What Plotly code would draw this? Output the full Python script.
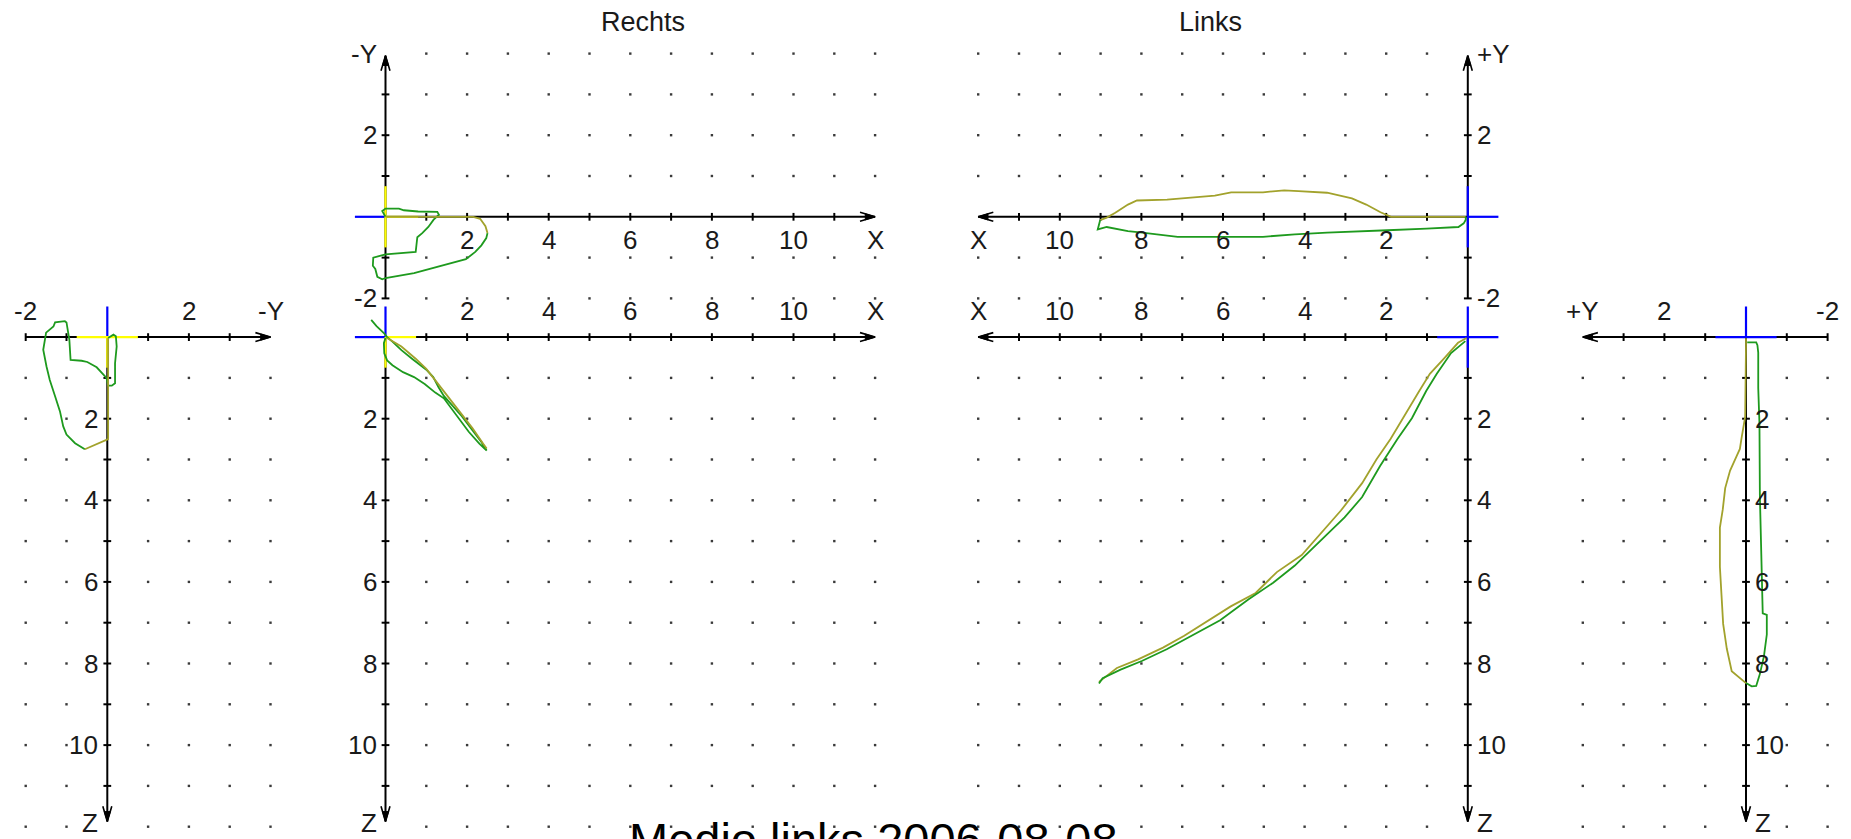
import plotly.graph_objects as go

W, H = 1851, 839
UNIT_PX = 40.8

# ---------------- values ----------------
# Left side view (Rechts): horizontal = -Y (right positive), vertical = Z (down)
SIDE_R_GREEN_H = [0.02, 0.15, 0.21, 0.23, 0.19, 0.19, 0.11, 0.02, -0.02, -0.10, -0.26, -0.49, -0.63, -0.90,
                  -0.93, -1.00, -1.04, -1.28, -1.32, -1.50, -1.57, -1.49, -1.41, -1.28, -1.16, -1.08, -1.00,
                  -0.79, -0.55]
SIDE_R_GREEN_Z = [0.02, -0.06, -0.02, 0.23, 0.64, 1.13, 1.19, 1.19, 1.00, 0.91, 0.74, 0.61, 0.58, 0.56,
                  0.07, -0.36, -0.39, -0.36, -0.26, -0.11, 0.31, 0.72, 1.05, 1.45, 1.82, 2.19, 2.39,
                  2.60, 2.75]
SIDE_R_OLIVE_H = [-0.55, -0.22, 0.02, 0.02, 0.02, 0.01, 0.02]
SIDE_R_OLIVE_Z = [2.75, 2.60, 2.50, 2.19, 1.05, 0.23, 0.02]

# Rechts, top view: X (right), -Y (up)
RECHTS_TOP_GREEN_X = [0.0, -0.08, 0.0, 0.33, 0.45, 0.80, 1.27, 1.31, 1.18, 1.05, 0.90, 0.78, 0.74, 0.0,
                      -0.30, -0.31, -0.25, -0.20, -0.08, 0.0, 0.70, 1.10, 1.55, 1.97, 2.20, 2.35, 2.47, 2.50]
RECHTS_TOP_GREEN_Y = [0.0, 0.14, 0.20, 0.20, 0.16, 0.13, 0.12, 0.05, -0.07, -0.25, -0.40, -0.50, -0.86, -0.92,
                      -1.00, -1.20, -1.28, -1.47, -1.53, -1.50, -1.38, -1.27, -1.15, -1.04, -0.86, -0.70,
                      -0.52, -0.40]
RECHTS_TOP_OLIVE_X = [2.50, 2.45, 2.32, 2.15, 1.27, 0.0]
RECHTS_TOP_OLIVE_Y = [-0.40, -0.23, -0.05, 0.0, 0.0, 0.0]

# Rechts, front view: X (right), Z (down)
RECHTS_BOT_GREEN_X = [-0.35, -0.22, -0.04, 0.04, 0.17, 0.39, 0.65, 0.87, 1.00, 1.17, 1.30, 1.43, 1.65, 1.87,
                      2.13, 2.35, 2.48, 2.30, 2.04, 1.78, 1.57, 1.43, 1.22, 0.96, 0.70, 0.43, 0.17, 0.04,
                      -0.03, -0.04, 0.0]
RECHTS_BOT_GREEN_Z = [-0.42, -0.27, -0.10, 0.0, 0.11, 0.32, 0.53, 0.69, 0.80, 0.98, 1.23, 1.44, 1.69, 1.94,
                      2.28, 2.57, 2.78, 2.61, 2.32, 1.98, 1.69, 1.50, 1.36, 1.15, 0.98, 0.86, 0.69, 0.57,
                      0.40, 0.15, 0.02]
RECHTS_BOT_OLIVE_X = [0.04, 0.39, 0.74, 1.00, 1.26, 1.52, 1.78, 2.13, 2.39, 2.48]
RECHTS_BOT_OLIVE_Z = [0.02, 0.23, 0.53, 0.78, 1.11, 1.44, 1.78, 2.23, 2.61, 2.73]

# Links, top view: X (left), +Y (up)
LINKS_TOP_OLIVE_X = [0.05, 1.88, 2.14, 2.49, 2.84, 3.45, 4.15, 4.50, 5.02, 5.80, 6.20, 6.85, 7.37, 8.11,
                     8.33, 8.64, 8.85, 9.01]
LINKS_TOP_OLIVE_Y = [0.0, 0.0, 0.11, 0.30, 0.45, 0.59, 0.63, 0.65, 0.60, 0.60, 0.52, 0.47, 0.42, 0.40,
                     0.30, 0.10, -0.02, -0.08]
LINKS_TOP_GREEN_X = [9.01, 9.07, 8.85, 8.33, 7.98, 7.63, 7.11, 5.02, 4.24, 3.45, 2.84, 1.97, 1.01, 0.23,
                     0.10, 0.05, 0.05]
LINKS_TOP_GREEN_Y = [-0.08, -0.31, -0.25, -0.35, -0.39, -0.43, -0.49, -0.49, -0.43, -0.39, -0.37, -0.33,
                     -0.29, -0.25, -0.16, -0.07, 0.0]

# Links, front view: X (left), Z (down)
LINKS_BOT_OLIVE_X = [0.03, 0.24, 0.58, 0.93, 1.19, 1.54, 1.89, 2.24, 2.59, 3.11, 3.55, 4.07, 4.68, 5.20,
                     5.81, 6.34, 6.95, 7.47, 8.08, 8.60, 9.04]
LINKS_BOT_OLIVE_Z = [0.02, 0.14, 0.52, 0.90, 1.32, 1.90, 2.49, 3.00, 3.58, 4.25, 4.76, 5.34, 5.76, 6.27,
                     6.60, 6.94, 7.32, 7.61, 7.90, 8.11, 8.45]
LINKS_BOT_GREEN_X = [9.04, 8.95, 8.51, 7.99, 7.38, 6.86, 6.07, 5.38, 4.77, 4.24, 3.55, 3.02, 2.59, 2.15,
                     1.72, 1.37, 1.02, 0.76, 0.41, 0.15, 0.06]
LINKS_BOT_GREEN_Z = [8.49, 8.36, 8.15, 7.94, 7.65, 7.36, 6.94, 6.43, 6.02, 5.60, 4.92, 4.42, 3.92, 3.16,
                     2.49, 1.99, 1.32, 0.90, 0.39, 0.18, 0.10]

# Right side view (Links): horizontal = +Y (left positive), vertical = Z (down)
SIDE_L_GREEN_H = [-0.03, -0.25, -0.28, -0.30, -0.30, -0.33, -0.34, -0.36, -0.38, -0.41, -0.51, -0.51,
                  -0.44, -0.34, -0.25, -0.14, 0.0]
SIDE_L_GREEN_Z = [0.13, 0.13, 0.20, 0.38, 1.25, 2.13, 3.88, 4.75, 6.07, 6.77, 6.81, 7.29, 7.82, 8.26,
                  8.55, 8.56, 8.48]
SIDE_L_OLIVE_H = [0.0, 0.15, 0.35, 0.47, 0.56, 0.60, 0.64, 0.64, 0.57, 0.51, 0.39, 0.23, 0.15, 0.11,
                  0.05, 0.02, 0.0, 0.0]
SIDE_L_OLIVE_Z = [8.48, 8.35, 8.19, 7.64, 7.03, 6.33, 5.63, 4.67, 4.23, 3.70, 3.27, 2.92, 2.74, 2.48,
                  2.13, 1.95, 0.20, 0.03]

# origin marker crosses: (color key, x0, y0, x1, y1) in each view's units
CROSS_SIDE_R = [("blue", 0, 0, 0, -0.75), ("yellow", -0.75, 0, 0.75, 0), ("yellow", 0, 0, 0, 0.75)]
CROSS_RECHTS_TOP = [("blue", -0.75, 0, 0, 0), ("yellow", 0, 0, 0.8, 0), ("yellow", 0, 0.75, 0, -0.75)]
CROSS_RECHTS_BOT = [("blue", -0.75, 0, 0, 0), ("blue", 0, 0, 0, -0.75),
                    ("yellow", 0, 0, 0.75, 0), ("yellow", 0, 0, 0, 0.75)]
CROSS_LINKS_TOP = [("blue", 0, 0.75, 0, -0.75), ("blue", 0, 0, -0.75, 0)]
CROSS_LINKS_BOT = [("blue", 0.75, 0, -0.75, 0), ("blue", 0, -0.75, 0, 0.75)]
CROSS_SIDE_L = [("blue", 0.75, 0, -0.75, 0), ("blue", 0, 0, 0, -0.75)]

# axis tick labels
X_LABEL_POS = [2, 4, 6, 8, 10, 12]
X_LABEL_TEXT = ["2", "4", "6", "8", "10", "X"]
Z_LABEL_POS = [2, 4, 6, 8, 10, 11.92]
Z_LABEL_TEXT = ["2", "4", "6", "8", "10", "Z"]
SIDE_R_H_LABEL_POS = [-2, 2, 4]
SIDE_R_H_LABEL_TEXT = ["-2", "2", "-Y"]
SIDE_L_H_LABEL_POS = [-2, 2, 4]
SIDE_L_H_LABEL_TEXT = ["-2", "2", "+Y"]
RECHTS_Y_LABEL_POS = [2, -2, 4.0]
RECHTS_Y_LABEL_TEXT = ["2", "-2", "-Y"]
LINKS_Y_LABEL_POS = [2, -2, 4.0]
LINKS_Y_LABEL_TEXT = ["2", "-2", "+Y"]

PANEL_TITLES = ["Rechts", "Links"]
MAIN_TITLE = "Medio links 2006-08-08"

# ---------------- layout / style ----------------
COL = {"green": "#1e9a1e", "olive": "#a2a22c", "blue": "#0000ff", "yellow": "#ffff00"}
AXIS_COLOR = "#000000"
DOT_COLOR = "#3a3a3a"
FONT = "Liberation Sans, Arial, sans-serif"
LABEL_SIZE = 26
TITLE_SIZE = 27
LABEL_COLOR = "#1a1a1a"

# panel geometry in pixels: origin (ox, oy), direction of positive values, clip box
PANELS = {
    "SR": dict(n=1, ox=107.3, oy=337.1, xdir=1, ydir=-1, box=(0, 290, 330, 839)),
    "RT": dict(n=2, ox=385.5, oy=216.8, xdir=1, ydir=1, box=(330, 0, 915, 322)),
    "RB": dict(n=3, ox=385.5, oy=337.1, xdir=1, ydir=-1, box=(330, 290, 915, 839)),
    "LT": dict(n=4, ox=1467.8, oy=216.8, xdir=-1, ydir=1, box=(935, 0, 1525, 322)),
    "LB": dict(n=5, ox=1467.8, oy=337.1, xdir=-1, ydir=-1, box=(935, 290, 1525, 839)),
    "SL": dict(n=6, ox=1746.0, oy=337.1, xdir=-1, ydir=-1, box=(1525, 290, 1851, 839)),
}

fig = go.Figure()
layout_axes = {}
for key, p in PANELS.items():
    n = p["n"]
    x0, y0, x1, y1 = p["box"]
    xr = [p["xdir"] * (x0 - p["ox"]) / UNIT_PX, p["xdir"] * (x1 - p["ox"]) / UNIT_PX]
    yr = [p["ydir"] * (p["oy"] - y1) / UNIT_PX, p["ydir"] * (p["oy"] - y0) / UNIT_PX]
    sx = "" if n == 1 else str(n)
    layout_axes["xaxis" + sx] = dict(domain=[x0 / W, x1 / W], range=xr, visible=False,
                                     fixedrange=True, anchor="y" + sx)
    layout_axes["yaxis" + sx] = dict(domain=[1 - y1 / H, 1 - y0 / H], range=yr, visible=False,
                                     fixedrange=True, anchor="x" + sx)
    p["xref"] = "x" + sx
    p["yref"] = "y" + sx


def add(key, **kw):
    p = PANELS[key]
    kw.setdefault("hoverinfo", "skip")
    kw.setdefault("showlegend", False)
    fig.add_trace(go.Scatter(xaxis=p["xref"], yaxis=p["yref"], **kw))


def dots(key, cols, rows):
    xs, ys = [], []
    for r in rows:
        for c in cols:
            xs.append(c)
            ys.append(r)
    add(key, x=xs, y=ys, mode="markers",
        marker=dict(symbol="square", size=2.4, color=DOT_COLOR, line=dict(width=0)))


TICK_HALF = 0.095
ARROW_LEN, ARROW_HW = 0.37, 0.11
HEAD_LEN, HEAD_HW = 0.24, 0.075


def axis(key, orient, start, end, ticks, arrow=True):
    if orient == "h":
        add(key, x=[start, end], y=[0, 0], mode="lines", line=dict(color=AXIS_COLOR, width=2))
    else:
        add(key, x=[0, 0], y=[start, end], mode="lines", line=dict(color=AXIS_COLOR, width=2))
    tx, ty = [], []
    for t in ticks:
        if orient == "h":
            tx += [t, t, None]
            ty += [-TICK_HALF, TICK_HALF, None]
        else:
            tx += [-TICK_HALF, TICK_HALF, None]
            ty += [t, t, None]
    add(key, x=tx, y=ty, mode="lines", line=dict(color=AXIS_COLOR, width=2))
    if arrow:
        s = 1 if end > start else -1
        if orient == "h":
            cx = [end - s * ARROW_LEN, end, end - s * ARROW_LEN]
            cy = [ARROW_HW, 0, -ARROW_HW]
            hx = [end, end - s * HEAD_LEN, end - s * HEAD_LEN, end]
            hy = [0, HEAD_HW, -HEAD_HW, 0]
        else:
            cy = [end - s * ARROW_LEN, end, end - s * ARROW_LEN]
            cx = [ARROW_HW, 0, -ARROW_HW]
            hy = [end, end - s * HEAD_LEN, end - s * HEAD_LEN, end]
            hx = [0, HEAD_HW, -HEAD_HW, 0]
        add(key, x=cx, y=cy, mode="lines", line=dict(color=AXIS_COLOR, width=1.6))
        add(key, x=hx, y=hy, mode="lines", fill="toself", fillcolor=AXIS_COLOR,
            line=dict(color=AXIS_COLOR, width=1))


def crosses(key, segs):
    for c, a, b, cc, d in segs:
        add(key, x=[a, cc], y=[b, d], mode="lines", line=dict(color=COL[c], width=2.2))


def curve(key, xs, ys, color):
    add(key, x=xs, y=ys, mode="lines", line=dict(color=COL[color], width=1.8))


annotations = []


def label(key, x, y, text, xanchor="center", yanchor="middle", xshift=0, yshift=0, size=LABEL_SIZE):
    p = PANELS[key]
    annotations.append(dict(x=x, y=y, xref=p["xref"], yref=p["yref"], text=text, showarrow=False,
                            xanchor=xanchor, yanchor=yanchor, xshift=xshift, yshift=yshift,
                            font=dict(family=FONT, size=size, color=LABEL_COLOR)))


INT_1_11 = list(range(1, 12))
INT_1_12 = list(range(1, 13))
SIDE_COLS = [-2, -1, 1, 2, 3, 4]
TOP_ROWS = [-2, -1, 1, 2, 3, 4]
Z_END = 11.87
Y_END = 3.95

# dot grids
dots("SR", SIDE_COLS, INT_1_12)
dots("RT", INT_1_12, TOP_ROWS)
dots("RB", INT_1_12, INT_1_12)
dots("LT", INT_1_12, TOP_ROWS)
dots("LB", INT_1_12, INT_1_12)
dots("SL", SIDE_COLS, INT_1_12)

# axes
axis("SR", "h", -2, 4, [-2, -1, 1, 2, 3])
axis("SR", "v", 0, Z_END, INT_1_11)
axis("RT", "h", 0, 12, INT_1_11)
axis("RT", "v", -2, Y_END, [-2, -1, 1, 2, 3])
axis("RB", "h", 0, 12, INT_1_11)
axis("RB", "v", 0, Z_END, INT_1_11)
axis("LT", "h", 0, 12, INT_1_11)
axis("LT", "v", -2, Y_END, [-2, -1, 1, 2, 3])
axis("LB", "h", 0, 12, INT_1_11)
axis("LB", "v", 0, Z_END, INT_1_11)
axis("SL", "h", -2, 4, [-2, -1, 1, 2, 3])
axis("SL", "v", 0, Z_END, INT_1_11)

# origin crosses
crosses("SR", CROSS_SIDE_R)
crosses("RT", CROSS_RECHTS_TOP)
crosses("RB", CROSS_RECHTS_BOT)
crosses("LT", CROSS_LINKS_TOP)
crosses("LB", CROSS_LINKS_BOT)
crosses("SL", CROSS_SIDE_L)

# curves
curve("SR", SIDE_R_GREEN_H, SIDE_R_GREEN_Z, "green")
curve("SR", SIDE_R_OLIVE_H, SIDE_R_OLIVE_Z, "olive")
curve("RT", RECHTS_TOP_GREEN_X, RECHTS_TOP_GREEN_Y, "green")
curve("RT", RECHTS_TOP_OLIVE_X, RECHTS_TOP_OLIVE_Y, "olive")
curve("RB", RECHTS_BOT_GREEN_X, RECHTS_BOT_GREEN_Z, "green")
curve("RB", RECHTS_BOT_OLIVE_X, RECHTS_BOT_OLIVE_Z, "olive")
curve("LT", LINKS_TOP_OLIVE_X, LINKS_TOP_OLIVE_Y, "olive")
curve("LT", LINKS_TOP_GREEN_X, LINKS_TOP_GREEN_Y, "green")
curve("LB", LINKS_BOT_OLIVE_X, LINKS_BOT_OLIVE_Z, "olive")
curve("LB", LINKS_BOT_GREEN_X, LINKS_BOT_GREEN_Z, "green")
curve("SL", SIDE_L_GREEN_H, SIDE_L_GREEN_Z, "green")
curve("SL", SIDE_L_OLIVE_H, SIDE_L_OLIVE_Z, "olive")

# labels
ABOVE_OFF = 26
BELOW_OFF = 23
for pos, txt in zip(SIDE_R_H_LABEL_POS, SIDE_R_H_LABEL_TEXT):
    label("SR", pos, 0, txt, yshift=ABOVE_OFF)
for pos, txt in zip(SIDE_L_H_LABEL_POS, SIDE_L_H_LABEL_TEXT):
    label("SL", pos, 0, txt, yshift=ABOVE_OFF)
for pos, txt in zip(Z_LABEL_POS, Z_LABEL_TEXT):
    label("SR", 0, pos, txt, xanchor="right", xshift=-7)
    label("RB", 0, pos, txt, xanchor="right", xshift=-7)
    label("LB", 0, pos, txt, xanchor="left", xshift=7)
    label("SL", 0, pos, txt, xanchor="left", xshift=7)
for pos, txt in zip(X_LABEL_POS, X_LABEL_TEXT):
    label("RT", pos, 0, txt, yshift=-BELOW_OFF)
    label("RB", pos, 0, txt, yshift=ABOVE_OFF)
    label("LT", pos, 0, txt, yshift=-BELOW_OFF)
    label("LB", pos, 0, txt, yshift=ABOVE_OFF)
for pos, txt in zip(RECHTS_Y_LABEL_POS, RECHTS_Y_LABEL_TEXT):
    label("RT", 0, pos, txt, xanchor="right", xshift=-7)
for pos, txt in zip(LINKS_Y_LABEL_POS, LINKS_Y_LABEL_TEXT):
    label("LT", 0, pos, txt, xanchor="left", xshift=7)

label("RT", 6.3, 4.77, PANEL_TITLES[0], size=TITLE_SIZE)
label("LT", 6.3, 4.77, PANEL_TITLES[1], size=TITLE_SIZE)

annotations.append(dict(x=873 / W, y=0.0, xref="paper", yref="paper", text=MAIN_TITLE,
                        showarrow=False, xanchor="center", yanchor="middle",
                        font=dict(family=FONT, size=47, color="#000000")))

fig.update_layout(width=W, height=H, margin=dict(l=0, r=0, t=0, b=0, pad=0),
                  paper_bgcolor="white", plot_bgcolor="rgba(0,0,0,0)",
                  showlegend=False, annotations=annotations, **layout_axes)

fig.write_html("out.html", config={"displayModeBar": False, "staticPlot": True},
               post_script="document.body.style.margin='0px';document.body.style.overflow='hidden';")
